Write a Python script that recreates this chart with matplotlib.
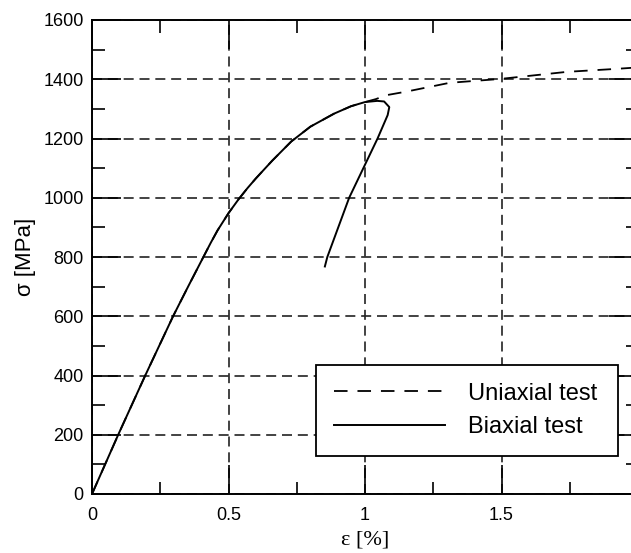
import numpy as np
import matplotlib.pyplot as plt
from matplotlib.ticker import MultipleLocator

plt.rcParams['font.family'] = ['Liberation Sans', 'DejaVu Sans']

# biaxial test: loading then unloading
biax_strain = [0, 0.096, 0.195, 0.297, 0.352, 0.408, 0.435, 0.46, 0.50, 0.537, 0.57, 0.60,
               0.66, 0.73, 0.80, 0.887, 0.949, 1.00, 1.045, 1.07, 1.089, 1.083,
               1.046, 0.942, 0.862, 0.853]
biax_stress = [0, 200, 400, 600, 700, 800, 848, 890, 948, 995, 1033, 1065,
               1125, 1190, 1240, 1284, 1309, 1323, 1327, 1325, 1306, 1279,
               1200, 1000, 800, 768]

# uniaxial test
uni_strain = [0, 0.096, 0.195, 0.297, 0.352, 0.408, 0.435, 0.46, 0.50, 0.537, 0.57, 0.60,
              0.66, 0.73, 0.80, 0.887, 0.949, 1.00, 1.04, 1.077, 1.15, 1.31, 1.495, 1.74, 1.92, 2.0]
uni_stress = [0, 200, 400, 600, 700, 800, 848, 890, 948, 995, 1033, 1065,
              1125, 1190, 1240, 1284, 1309, 1323, 1333, 1346, 1358, 1388, 1401, 1425, 1435, 1440]

fig = plt.figure(figsize=(6.31, 5.53), dpi=100)
ax = fig.add_axes([92/631, 59/553, 546/631, 474/553])

ax.plot(uni_strain, uni_stress, color='black', lw=1.3, dashes=(7.5, 5.5), label='Uniaxial test')
ax.plot(biax_strain, biax_stress, color='black', lw=1.4, label='Biaxial test')

ax.set_xlim(0, 2)
ax.set_ylim(0, 1600)
ax.xaxis.set_major_locator(MultipleLocator(0.5))
ax.xaxis.set_minor_locator(MultipleLocator(0.25))
ax.yaxis.set_major_locator(MultipleLocator(200))
ax.yaxis.set_minor_locator(MultipleLocator(100))
ax.set_xticks([0, 0.5, 1, 1.5, 2])
ax.set_xticklabels(['0', '0.5', '1', '1.5', '2'])

ax.tick_params(which='both', direction='in', top=True, right=True, labelsize=13, width=1.2)
ax.tick_params(which='major', length=21)
ax.tick_params(which='minor', length=9)
ax.tick_params(axis='x', pad=9)
ax.tick_params(axis='y', pad=6)

ax.grid(True, which='major', color='#222222', lw=1.2, linestyle=(0, (6, 3.5)))
for s in ax.spines.values():
    s.set_linewidth(1.4)

ax.set_xlabel('ε [%]', fontsize=16, family=['Liberation Serif', 'DejaVu Serif'], labelpad=5)
ax.set_ylabel('σ [MPa]', fontsize=16, labelpad=5)

leg = ax.legend(loc='center', bbox_to_anchor=(0.41, 0.176, 0.553, 0.0), mode='expand',
                borderaxespad=0, fontsize=17, handlelength=4.7, handletextpad=1.0,
                fancybox=False, framealpha=1, edgecolor='black',
                borderpad=0.75, labelspacing=0.5)
leg.get_frame().set_linewidth(1.3)

fig.savefig('out.png', dpi=100)
